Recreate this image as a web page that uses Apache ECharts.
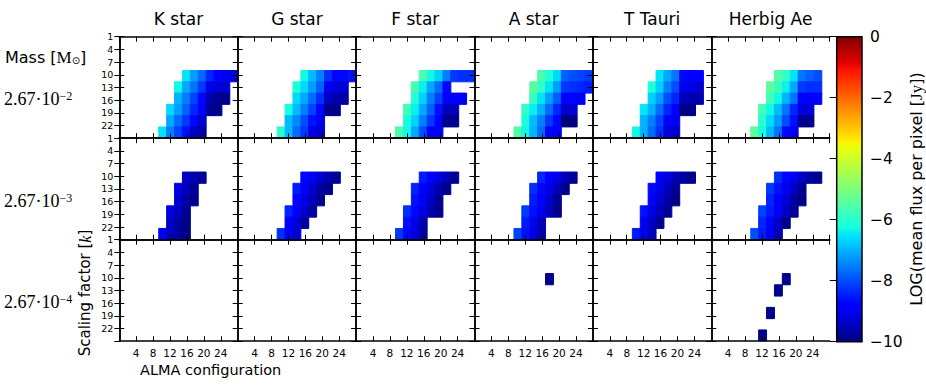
<!DOCTYPE html>
<html><head><meta charset="utf-8">
<script src="https://cdn.jsdelivr.net/npm/echarts@6/dist/echarts.min.js"></script>
<style>html,body{margin:0;padding:0;background:#fff}#c{width:926px;height:391px}</style>
</head><body><div id="c"></div>
<script>
// ---------------- data ----------------
const starTypes = ['K star', 'G star', 'F star', 'A star', 'T Tauri', 'Herbig Ae'];
const massExponents = ['−2', '−3', '−4'];
const massMantissa = '2.67·10';
const xTickValues = [4, 8, 12, 16, 20, 24];      // ALMA configuration ticks
const yTickValues = [1, 4, 7, 10, 13, 16, 19, 22]; // scaling factor ticks
const colorbarTicks = [0, -2, -4, -6, -8, -10];
const nCols = 15, nRows = 9;                       // cells per panel
const xRange = [0, 28], yRange = [1, 25];
// each row entry: [rowIndex, firstColumnIndex, [log flux values ...]]
const kStarM2 = [[3,8,[-6.5,-7.2,-7.7,-8.4,-8.9,-9.0,-9.2]],[4,7,[-6.3,-7.1,-7.6,-8.2,-9.1,-9.2,-9.3]],[5,7,[-7.0,-7.5,-8.1,-8.7,-9.6,-9.8,-9.9]],[6,6,[-6.6,-7.2,-7.8,-8.4,-8.8,-9.8,-9.9]],[7,6,[-7.1,-7.7,-8.2,-8.7,-9.3]],[8,5,[-6.5,-7.5,-8.1,-8.6,-9.4,-9.6]]];
const gStarM2 = [[3,8,[-6.3,-6.9,-7.5,-8.3,-8.7,-8.7,-8.6]],[4,7,[-6.1,-6.6,-7.2,-7.8,-9.0,-9.2,-9.3]],[5,7,[-6.6,-7.1,-7.7,-8.3,-9.4,-9.6,-9.7]],[6,6,[-6.2,-6.9,-7.5,-8.1,-8.7,-9.9,-9.9]],[7,6,[-6.9,-7.4,-8.0,-8.6,-9.0]],[8,5,[-6.0,-6.9,-7.7,-8.2,-9.1,-9.3]]];
const fStarM2 = [[3,8,[-5.6,-6.3,-6.7,-7.5,-8.2,-8.3,-8.3]],[4,7,[-5.7,-6.4,-7.1,-7.7,-8.7]],[5,7,[-6.1,-6.7,-7.5,-8.1,-8.9,-8.9,-9.0]],[6,6,[-5.7,-6.4,-7.1,-7.8,-8.6,-9.5,-9.5]],[7,6,[-6.2,-6.7,-7.5,-8.2,-8.8,-9.9,-9.9]],[8,5,[-5.6,-6.3,-7.1,-8.0,-8.8,-8.9]]];
const aStarM2 = [[3,8,[-5.6,-6.1,-6.6,-7.8,-8.0,-8.1,-8.2]],[4,7,[-5.4,-5.9,-6.5,-7.2,-8.2,-8.3,-8.4,-8.5]],[5,7,[-5.8,-6.5,-7.2,-7.8,-8.8,-8.8,-8.9]],[6,6,[-5.9,-6.4,-7.0,-7.7,-8.4,-9.3,-9.3]],[7,6,[-6.2,-6.9,-7.5,-8.2,-8.7,-10,-10]],[8,5,[-5.5,-6.3,-7.0,-7.7,-8.7,-8.8]]];
const tTauriM2 = [[3,8,[-6.5,-7.1,-7.6,-8.7,-8.8,-8.8]],[4,7,[-6.1,-6.7,-7.5,-8.0,-9.0,-9.1,-9.3]],[5,7,[-6.7,-7.2,-8.0,-8.4,-9.5,-9.6,-9.6]],[6,6,[-6.5,-7.0,-7.7,-8.4,-8.8,-9.95,-9.95]],[7,6,[-7.0,-7.5,-8.1,-8.8,-9.0]],[8,5,[-6.3,-7.0,-7.7,-8.3,-9.2,-9.3]]];
const herbigM2 = [[3,8,[-5.5,-5.9,-6.5,-7.6,-7.8,-8.0]],[4,7,[-5.4,-5.8,-6.4,-7.1,-8.2,-8.3,-8.3]],[5,7,[-5.7,-6.3,-7.0,-7.6,-8.8,-8.8,-8.9]],[6,6,[-5.7,-6.3,-6.9,-7.6,-8.4,-9.2,-9.2]],[7,6,[-6.0,-6.6,-7.2,-8.0,-8.6,-9.9,-9.9]],[8,5,[-5.4,-6.2,-6.9,-7.6,-8.7,-8.8]]];
const kStarM3 = [[3,8,[-9.4,-9.6,-9.8]],[4,7,[-9.1,-9.5,-9.8]],[5,7,[-9.3,-9.7,-9.9]],[6,6,[-9.1,-9.5,-9.8]],[7,6,[-9.4,-9.7,-9.95]],[8,5,[-9.0,-9.4,-9.7,-9.95]]];
const gStarM3 = [[3,8,[-8.7,-9.0,-9.3,-9.6,-9.8]],[4,7,[-8.5,-8.9,-9.3,-9.7,-9.9]],[5,7,[-8.7,-9.1,-9.5,-9.9]],[6,6,[-8.4,-8.9,-9.3,-9.7]],[7,6,[-8.8,-9.2,-9.7]],[8,5,[-8.3,-8.8,-9.3]]];
const fStarM3 = [[3,8,[-8.5,-8.9,-9.2,-9.5,-9.8]],[4,7,[-8.4,-8.8,-9.2,-9.6,-9.9]],[5,7,[-8.6,-9.0,-9.4,-9.8]],[6,6,[-8.3,-8.7,-9.1,-9.6,-9.9]],[7,6,[-8.6,-9.1,-9.6]],[8,5,[-8.2,-8.7,-9.2,-9.7]]];
const aStarM3 = [[3,8,[-8.4,-8.8,-9.1,-9.5,-9.8]],[4,7,[-8.3,-8.7,-9.1,-9.5,-9.9]],[5,7,[-8.5,-8.9,-9.3,-9.8]],[6,6,[-8.2,-8.6,-9.0,-9.5,-9.9]],[7,6,[-8.5,-9.0,-9.5]],[8,5,[-8.1,-8.6,-9.1,-9.6]]];
const tTauriM3 = [[3,8,[-8.9,-9.2,-9.5,-9.7,-9.9]],[4,7,[-8.7,-9.1,-9.5,-9.8]],[5,7,[-8.9,-9.3,-9.7,-9.95]],[6,6,[-8.6,-9.1,-9.5,-9.8]],[7,6,[-9.0,-9.4,-9.8]],[8,5,[-8.5,-9.0,-9.5]]];
const herbigM3 = [[3,8,[-8.3,-8.7,-9.0,-9.4,-9.7,-9.9]],[4,7,[-8.2,-8.6,-9.0,-9.4,-9.8]],[5,7,[-8.4,-8.8,-9.2,-9.7,-9.95]],[6,6,[-8.1,-8.5,-8.9,-9.4,-9.8]],[7,6,[-8.4,-8.9,-9.4,-9.9]],[8,5,[-8.0,-8.5,-9.0,-9.5]]];
const kStarM4 = [];
const gStarM4 = [];
const fStarM4 = [];
const aStarM4 = [[3,9,[-9.9]]];
const tTauriM4 = [];
const herbigM4 = [[3,9,[-9.9]],[4,8,[-9.9]],[6,7,[-9.9]],[8,6,[-9.9]]];
const panelData = [
  [kStarM2, gStarM2, fStarM2, aStarM2, tTauriM2, herbigM2],
  [kStarM3, gStarM3, fStarM3, aStarM3, tTauriM3, herbigM3],
  [kStarM4, gStarM4, fStarM4, aStarM4, tTauriM4, herbigM4]
];

// ---------------- colormap (jet) ----------------
function seg(t, pts){for(let k=1;k<pts.length;k++){if(t<=pts[k][0]){const a=pts[k-1],b=pts[k];return a[1]+(b[1]-a[1])*(t-a[0])/(b[0]-a[0]);}}return pts[pts.length-1][1];}
function jet(t){
  const r=seg(t,[[0,0],[0.35,0],[0.66,1],[0.89,1],[1,0.5]]);
  const g=seg(t,[[0,0],[0.125,0],[0.375,1],[0.64,1],[0.91,0],[1,0]]);
  const b=seg(t,[[0,0.5],[0.11,1],[0.34,1],[0.65,0],[1,0]]);
  return 'rgb('+Math.round(r*255)+','+Math.round(g*255)+','+Math.round(b*255)+')';
}
const jetColors = []; for (let k=0;k<=64;k++) jetColors.push(jet(k/64));

// ---------------- layout ----------------
const PL = 119.3, PT = 36.7, PW = 118.4, PH = 101.5;
const CB = {left: 836.7, top: 36.7, width: 25.3, height: 305};
const SANS = 'DejaVu Sans';
const SERIF = 'Liberation Serif';

function toCells(rows){
  const out=[];
  rows.forEach(function(r){ r[2].forEach(function(v,k){ out.push([r[1]+k, r[0], v]); }); });
  return out;
}
function renderCell(params, api){
  const c=api.value(0), r=api.value(1);
  const dx=(xRange[1]-xRange[0])/nCols, dy=(yRange[1]-yRange[0])/nRows;
  const p0=api.coord([xRange[0]+c*dx, yRange[0]+r*dy]);
  const p1=api.coord([xRange[0]+(c+1)*dx, yRange[0]+(r+1)*dy]);
  const col=api.visual('color');
  return {type:'rect', shape:{x:Math.min(p0[0],p1[0]), y:Math.min(p0[1],p1[1]), width:Math.abs(p1[0]-p0[0]), height:Math.abs(p1[1]-p0[1])},
    style:{fill:col, stroke:col, lineWidth:1}};
}

const grid=[], xAxis=[], yAxis=[], series=[];
const tickStyle = {show:true, inside:true, length:5, lineStyle:{color:'#000', width:1}};
const lineStyle = {show:true, lineStyle:{color:'#000', width:1.5}};
for (let j=0;j<3;j++){
  for (let i=0;i<6;i++){
    const g=grid.length;
    grid.push({left:PL+i*PW, top:PT+j*PH, width:PW, height:PH, containLabel:false});
    xAxis.push({type:'value', gridIndex:g, position:'bottom', min:xRange[0], max:xRange[1], interval:4, z:5,
      axisLine:lineStyle, axisTick:tickStyle, splitLine:{show:false},
      axisLabel:{show:j===2, color:'#000', fontFamily:SANS, fontSize:10.5, margin:6, showMinLabel:false, showMaxLabel:false,
        formatter:function(v){return xTickValues.indexOf(v)>=0?String(v):'';}}});
    xAxis.push({type:'value', gridIndex:g, position:'top', min:xRange[0], max:xRange[1], interval:4, z:5,
      axisLine:lineStyle, axisTick:tickStyle, splitLine:{show:false}, axisLabel:{show:false}});
    yAxis.push({type:'value', gridIndex:g, position:'left', inverse:true, min:yRange[0], max:yRange[1], interval:3, z:5,
      axisLine:lineStyle, axisTick:tickStyle, splitLine:{show:false},
      axisLabel:{show:i===0, color:'#000', fontFamily:SANS, fontSize:9.5, margin:6, showMaxLabel:false,
        formatter:function(v){return yTickValues.indexOf(v)>=0?String(v):'';}}});
    yAxis.push({type:'value', gridIndex:g, position:'right', inverse:true, min:yRange[0], max:yRange[1], interval:3, z:5,
      axisLine:lineStyle, axisTick:tickStyle, splitLine:{show:false}, axisLabel:{show:false}});
    series.push({type:'custom', xAxisIndex:2*g, yAxisIndex:2*g, renderItem:renderCell, clip:true, z:1,
      encode:{x:0, y:1}, data:toCells(panelData[j][i]), silent:true});
  }
}
// colorbar
const cbG = grid.length;
grid.push({left:CB.left, top:CB.top, width:CB.width, height:CB.height});
xAxis.push({type:'value', gridIndex:cbG, min:0, max:1, show:false});
yAxis.push({type:'value', gridIndex:cbG, position:'right', min:-10, max:0, interval:2, z:5,
  axisLine:{show:false}, axisTick:{show:true, inside:true, length:7, lineStyle:{color:'#000', width:1}},
  splitLine:{show:false},
  axisLabel:{color:'#000', fontFamily:SANS, fontSize:15.5, margin:8,
    formatter:function(v){return colorbarTicks.indexOf(v)>=0 ? (v<0?'\u2212'+Math.abs(v):String(v)) : '';}}});
const cbStops=[]; for (let k=0;k<=64;k++) cbStops.push({offset:k/64, color:jet(1-k/64)});
series.push({type:'custom', xAxisIndex:xAxis.length-1, yAxisIndex:yAxis.length-1, silent:true, data:[[0,0]], z:1,
  renderItem:function(p, api){
    const a=api.coord([0,0]), b=api.coord([1,-10]);
    return {type:'rect', shape:{x:a[0], y:a[1], width:b[0]-a[0], height:b[1]-a[1]},
      style:{fill:new echarts.graphic.LinearGradient(0,0,0,1,cbStops), stroke:'#000', lineWidth:1.5}};
  }});

const graphic=[];
starTypes.forEach(function(name,i){
  graphic.push({type:'text', x:PL+PW*(i+0.5), y:19, style:{text:name, font:'17px '+SANS, fill:'#000', align:'center', verticalAlign:'middle', textAlign:'center', textVerticalAlign:'middle'}});
});
graphic.push({type:'text', x:5, y:57, style:{text:'{a|Mass [}{m|M}{o|⊙}{a|]}', fill:'#000', verticalAlign:'middle', textVerticalAlign:'middle',
  rich:{a:{fontFamily:SANS, fontSize:16, fill:'#000'}, m:{fontFamily:SERIF, fontSize:17, fill:'#000'}, o:{fontFamily:SANS, fontSize:10, fill:'#000', verticalAlign:'bottom'}}}});
massExponents.forEach(function(e,j){
  graphic.push({type:'text', x:4, y:PT+PH*(j+0.5)+12, style:{text:'{m|'+massMantissa+'}{s|'+e+'}', fill:'#000', verticalAlign:'middle', textVerticalAlign:'middle',
    rich:{m:{fontFamily:SERIF, fontSize:18, fill:'#000'}, s:{fontFamily:SERIF, fontSize:12, fill:'#000', verticalAlign:'top'}}}});
});
graphic.push({type:'text', x:85, y:293, rotation:Math.PI/2, style:{text:'{a|Scaling factor [}{k|k}{a|]}', fill:'#000', align:'center', verticalAlign:'middle', textAlign:'center', textVerticalAlign:'middle',
  rich:{a:{fontFamily:SANS, fontSize:15, fill:'#000'}, k:{fontFamily:SERIF, fontStyle:'italic', fontSize:16, fill:'#000'}}}});
graphic.push({type:'text', x:140, y:370, style:{text:'ALMA configuration', font:'14.5px '+SANS, fill:'#000', verticalAlign:'middle', textVerticalAlign:'middle'}});
graphic.push({type:'text', x:916.7, y:189, rotation:Math.PI/2, style:{text:'{a|LOG(mean flux per pixel [}{s|Jy}{a|])}', fill:'#000', align:'center', verticalAlign:'middle', textAlign:'center', textVerticalAlign:'middle',
  rich:{a:{fontFamily:SANS, fontSize:16, fill:'#000'}, s:{fontFamily:SERIF, fontSize:17, fill:'#000'}}}});

const chart = echarts.init(document.getElementById('c'), null, {renderer:'svg', width:926, height:391});
chart.setOption({
  backgroundColor:'#fff', animation:false,
  grid:grid, xAxis:xAxis, yAxis:yAxis, series:series, graphic:graphic,
  visualMap:[{type:'continuous', show:false, min:-10, max:0, dimension:2, seriesIndex:series.map(function(s,k){return k;}).slice(0,18), inRange:{color:jetColors}}]
});
</script></body></html>
